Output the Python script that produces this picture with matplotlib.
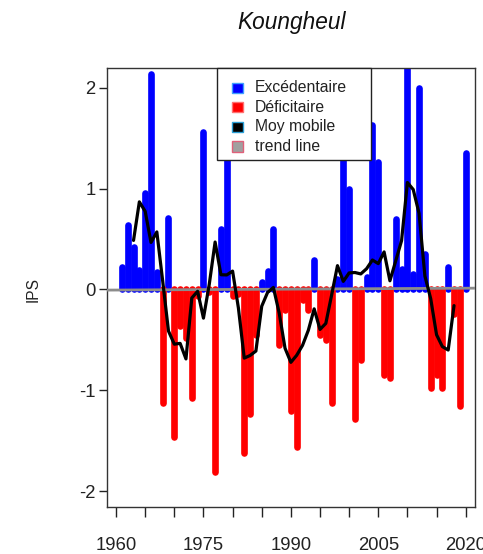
import numpy as np
import pandas as pd
import matplotlib
matplotlib.use("Agg")
import matplotlib.pyplot as plt
from matplotlib.patches import Rectangle

plt.rcParams['font.family'] = ['Liberation Sans', 'DejaVu Sans']

# Indice de précipitation standardisé, station de Koungheul
years = np.arange(1961, 2021)
ips = [
    0.22, 0.64, 0.42, 0.19, 0.96, 2.13, 0.17, -1.12, 0.71, -1.46,   # 1961-1970
    -0.36, -0.48, -1.08, -0.06, 1.56, -0.03, -1.81, 0.60, 2.03, -0.06,  # 1971-1980
    -0.04, -1.62, -1.23, -0.45, 0.07, 0.18, 0.60, -0.55, -0.20, -1.20,  # 1981-1990
    -1.56, -0.10, -0.20, 0.29, -0.45, -0.50, -1.12, 0.10, 1.70, 1.00,   # 1991-2000
    -1.28, -0.70, 0.12, 1.63, 1.26, -0.85, -0.88, 0.70, 0.20, 2.25,     # 2001-2010
    0.15, 2.00, 0.35, -0.98, -0.85, -0.98, 0.22, -0.24, -1.15, 1.35,    # 2011-2020
]
legend_labels = ['Excédentaire', 'Déficitaire', 'Moy mobile', 'trend line']
legend_fill = ['#0000ff', '#ff0000', '#000000', '#a0a0a0']
legend_edge = ['#3fa0ff', '#ff7070', '#2a9fd6', '#e0607a']

W, H = 483, 554


def fx(x):
    return x / W


def fy(y):
    return 1 - y / H


fig = plt.figure(figsize=(W / 100, H / 100), dpi=100)
ax = fig.add_axes([fx(107.3), fy(506.7), (475 - 107.3) / W, (506.7 - 68) / H])

ips = np.array(ips)
up = ips > 0
down = ips < 0

bars_up = ax.vlines(years[up], 0, ips[up], colors='#0000ff', linewidth=4.8, zorder=2)
bars_up.set_capstyle('round')
bars_dn = ax.vlines(years[down], 0, ips[down], colors='#ff0000', linewidth=4.8, zorder=2)
bars_dn.set_capstyle('round')

# droite de tendance (moindres carrés)
coef = np.polyfit(years, ips, 1)
ax.axline((years[0], np.polyval(coef, years[0])), slope=coef[0],
          color='#8c8c8c', linewidth=2.0, zorder=3)

# moyenne mobile centrée sur 5 ans
moy = pd.Series(ips).rolling(5, center=True).mean()
ax.plot(years, moy, color='black', linewidth=2.3, zorder=4,
        solid_joinstyle='round', solid_capstyle='round')

ax.set_xlim(1958.5, 2021.6)
ax.set_ylim(-2.152, 2.194)

xt = np.arange(1960, 2021, 5)
ax.set_xticks(xt)
ax.set_xticklabels([str(t) if (t - 1960) % 15 == 0 else '' for t in xt])
ax.set_yticks([-2, -1, 0, 1, 2])
ax.set_yticklabels(['-2', '-1', '0', '1', '2'])
ax.tick_params(axis='x', length=7.5, width=1, pad=14, labelsize=13.3, colors='#222222')
ax.tick_params(axis='y', length=5.5, width=1, pad=3, labelsize=13.3, colors='#222222')
for sp in ax.spines.values():
    sp.set_color('#333333')
    sp.set_linewidth(1)

fig.text(fx(33), fy(289), 'IPS', rotation=90, ha='center', va='center',
         fontsize=11.2, color='#222222')
fig.text(0.5 * (fx(107.3) + fx(475)), fy(23), 'Koungheul', ha='center', va='center',
         fontsize=16.3, style='italic', color='#111111')

# légende
ax.add_patch(Rectangle((fx(217.3), fy(160)), (370.7 - 217.3) / W, (160 - 68.3) / H,
                       transform=fig.transFigure, facecolor='white', edgecolor='#222222',
                       linewidth=1, zorder=6, clip_on=False))
for i, (lab, fc, ec) in enumerate(zip(legend_labels, legend_fill, legend_edge)):
    yc = 87.7 + i * 19.6
    ax.add_patch(Rectangle((fx(232), fy(yc + 5)), 10.5 / W, 10 / H,
                           transform=fig.transFigure, facecolor=fc, edgecolor=ec,
                           linewidth=1, zorder=7, clip_on=False))
    fig.text(fx(255), fy(yc), lab, ha='left', va='center', fontsize=11.3,
             color='#222222', zorder=8)

fig.savefig('out.png', dpi=100)
